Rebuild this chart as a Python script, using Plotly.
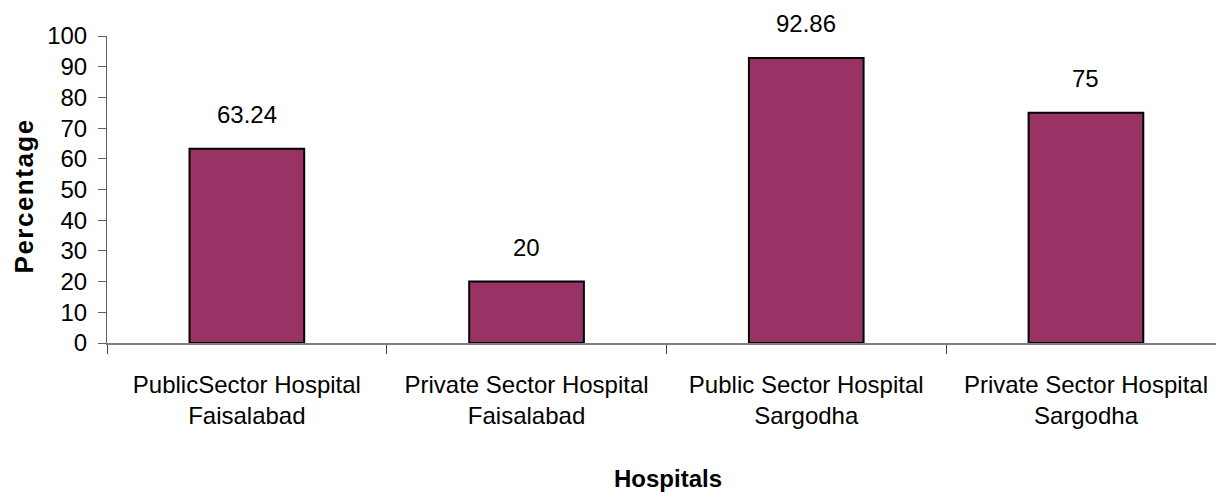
import plotly.graph_objects as go

# Hospital categories and percentage per hospital
categories = [
    "PublicSector Hospital<br>Faisalabad",
    "Private Sector Hospital<br>Faisalabad",
    "Public Sector Hospital<br>Sargodha",
    "Private Sector Hospital<br>Sargodha",
]
percentages = [63.24, 20, 92.86, 75]
y_ticks = list(range(0, 101, 10))

FONT = "Liberation Sans, Arial, sans-serif"
BAR_COLOR = "#993366"

fig = go.Figure()
fig.add_trace(go.Bar(
    x=categories,
    y=percentages,
    width=0.41,
    marker=dict(color=BAR_COLOR, line=dict(color="#000000", width=2)),
    cliponaxis=False,
    hoverinfo="x+y",
))

# Value labels above each bar
for cat, val in zip(categories, percentages):
    fig.add_annotation(
        x=cat, y=val, text=f"{val:g}", showarrow=False,
        yshift=34, yanchor="middle",
        font=dict(family=FONT, size=24, color="#000000"),
    )

# Axis titles
fig.add_annotation(
    xref="paper", yref="paper", x=0.506, y=-0.44,
    text="<b>Hospitals</b>", showarrow=False,
    xanchor="center", yanchor="middle",
    font=dict(family=FONT, size=24, color="#000000"),
)
fig.add_annotation(
    xref="paper", yref="paper", x=-0.075, y=0.48,
    text='<b><span style="letter-spacing:1.5px">Percentage</span></b>',
    showarrow=False, textangle=-90,
    xanchor="center", yanchor="middle",
    font=dict(family=FONT, size=26, color="#000000"),
)

fig.update_layout(
    width=1216, height=493,
    margin=dict(l=107, r=0, t=35.5, b=149.5),
    paper_bgcolor="#ffffff", plot_bgcolor="#ffffff",
    showlegend=False,
    font=dict(family=FONT, color="#000000"),
)
fig.update_xaxes(
    type="category",
    range=[-0.5, 3.465],
    showgrid=False,
    showline=True, linecolor="#808080", linewidth=2,
    ticks="outside", tickson="boundaries", ticklen=9, tickcolor="#404040", tickwidth=1,
    tickfont=dict(family=FONT, size=24, color="#000000"),
    ticklabelstandoff=19,
)
fig.update_yaxes(
    range=[0, 100],
    tickvals=y_ticks,
    showgrid=False, zeroline=False,
    showline=True, linecolor="#606060", linewidth=1,
    ticks="outside", ticklen=8, tickcolor="#606060", tickwidth=1,
    tickfont=dict(family=FONT, size=24, color="#000000"),
    ticklabelstandoff=6,
)

fig.write_html("out.html")
